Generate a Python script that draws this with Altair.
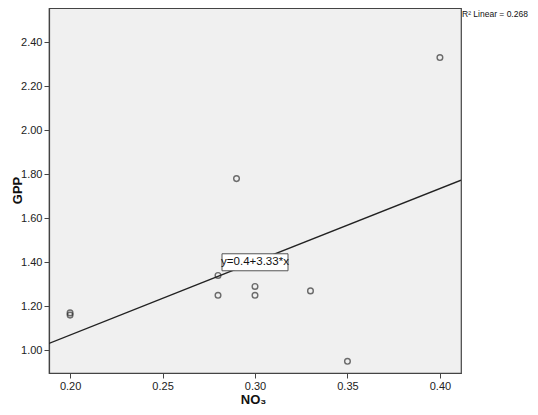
import altair as alt
import pandas as pd

no3 = [0.20, 0.20, 0.28, 0.28, 0.29, 0.30, 0.30, 0.33, 0.35, 0.40]
gpp = [1.17, 1.16, 1.34, 1.25, 1.78, 1.29, 1.25, 1.27, 0.95, 2.33]
x_ticks = [0.20, 0.25, 0.30, 0.35, 0.40]
y_ticks = [1.00, 1.20, 1.40, 1.60, 1.80, 2.00, 2.20, 2.40]
x_domain = [0.1886, 0.4114]
y_domain = [0.897, 2.555]
eq_label = ["y=0.4+3.33*x"]
eq_pos = [0.30, 1.40]
r2_label = ["R\u00b2 Linear = 0.268"]

df = pd.DataFrame({"NO3": no3, "GPP": gpp})
eq_df = pd.DataFrame({"x": [eq_pos[0]], "y": [eq_pos[1]], "t": eq_label})
r2_df = pd.DataFrame({"t": r2_label})

W, H = 412, 365
FONT = "Liberation Sans"

xs = alt.Scale(domain=x_domain, nice=False, zero=False)
ys = alt.Scale(domain=y_domain, nice=False, zero=False)

x_axis = alt.Axis(values=x_ticks, format=".2f", title="NO\u2083", grid=False,
                  titleX=204, titleY=26, titleBaseline="middle", titleAlign="center",
                  titleFontSize=13, titleFontWeight="bold")
y_axis = alt.Axis(values=y_ticks, format=".2f", title="GPP", grid=False,
                  titleX=-32, titleY=182, titleBaseline="middle", titleAlign="center",
                  titleAngle=-90, titleFontSize=13, titleFontWeight="bold")

points = alt.Chart(df).mark_point(shape="circle", filled=False, size=32,
                                  color="#333333", strokeWidth=1.4).encode(
    x=alt.X("NO3:Q", scale=xs, axis=x_axis),
    y=alt.Y("GPP:Q", scale=ys, axis=y_axis),
)

line = alt.Chart(df).transform_regression(
    "NO3", "GPP", extent=x_domain
).mark_line(color="#222222", strokeWidth=1.4, clip=True).encode(
    x=alt.X("NO3:Q", scale=xs),
    y=alt.Y("GPP:Q", scale=ys),
)

box = alt.Chart(eq_df).mark_rect(width=66, height=17, fill="#ffffff",
                                 stroke="#555555", strokeWidth=1).encode(
    x=alt.X("x:Q", scale=xs), y=alt.Y("y:Q", scale=ys))

eq_text = alt.Chart(eq_df).mark_text(font=FONT, fontSize=11.5, color="#111111",
                                     baseline="middle", align="center").encode(
    x=alt.X("x:Q", scale=xs), y=alt.Y("y:Q", scale=ys), text="t:N")

r2_text = alt.Chart(r2_df).mark_text(font=FONT, fontSize=8.5, color="#111111",
                                     align="left", baseline="alphabetic").encode(
    x=alt.value(W + 1), y=alt.value(9), text="t:N")

chart = alt.layer(points, line, box, eq_text, r2_text).properties(
    width=W, height=H,
    autosize=alt.AutoSizeParams(type="none"),
    padding={"left": 41, "top": 0, "right": 69, "bottom": 33},
).configure_view(
    fill="#F0F0F0", stroke="#444444", strokeWidth=1.2
).configure_axis(
    domainColor="#444444", domainWidth=1.2, tickColor="#444444", tickSize=5,
    labelFont=FONT, labelFontSize=11, labelColor="#222222", titleFont=FONT,
    titleColor="#111111", labelPadding=2,
)

chart.save("out.html", embed_options={"renderer": "svg", "actions": False})
